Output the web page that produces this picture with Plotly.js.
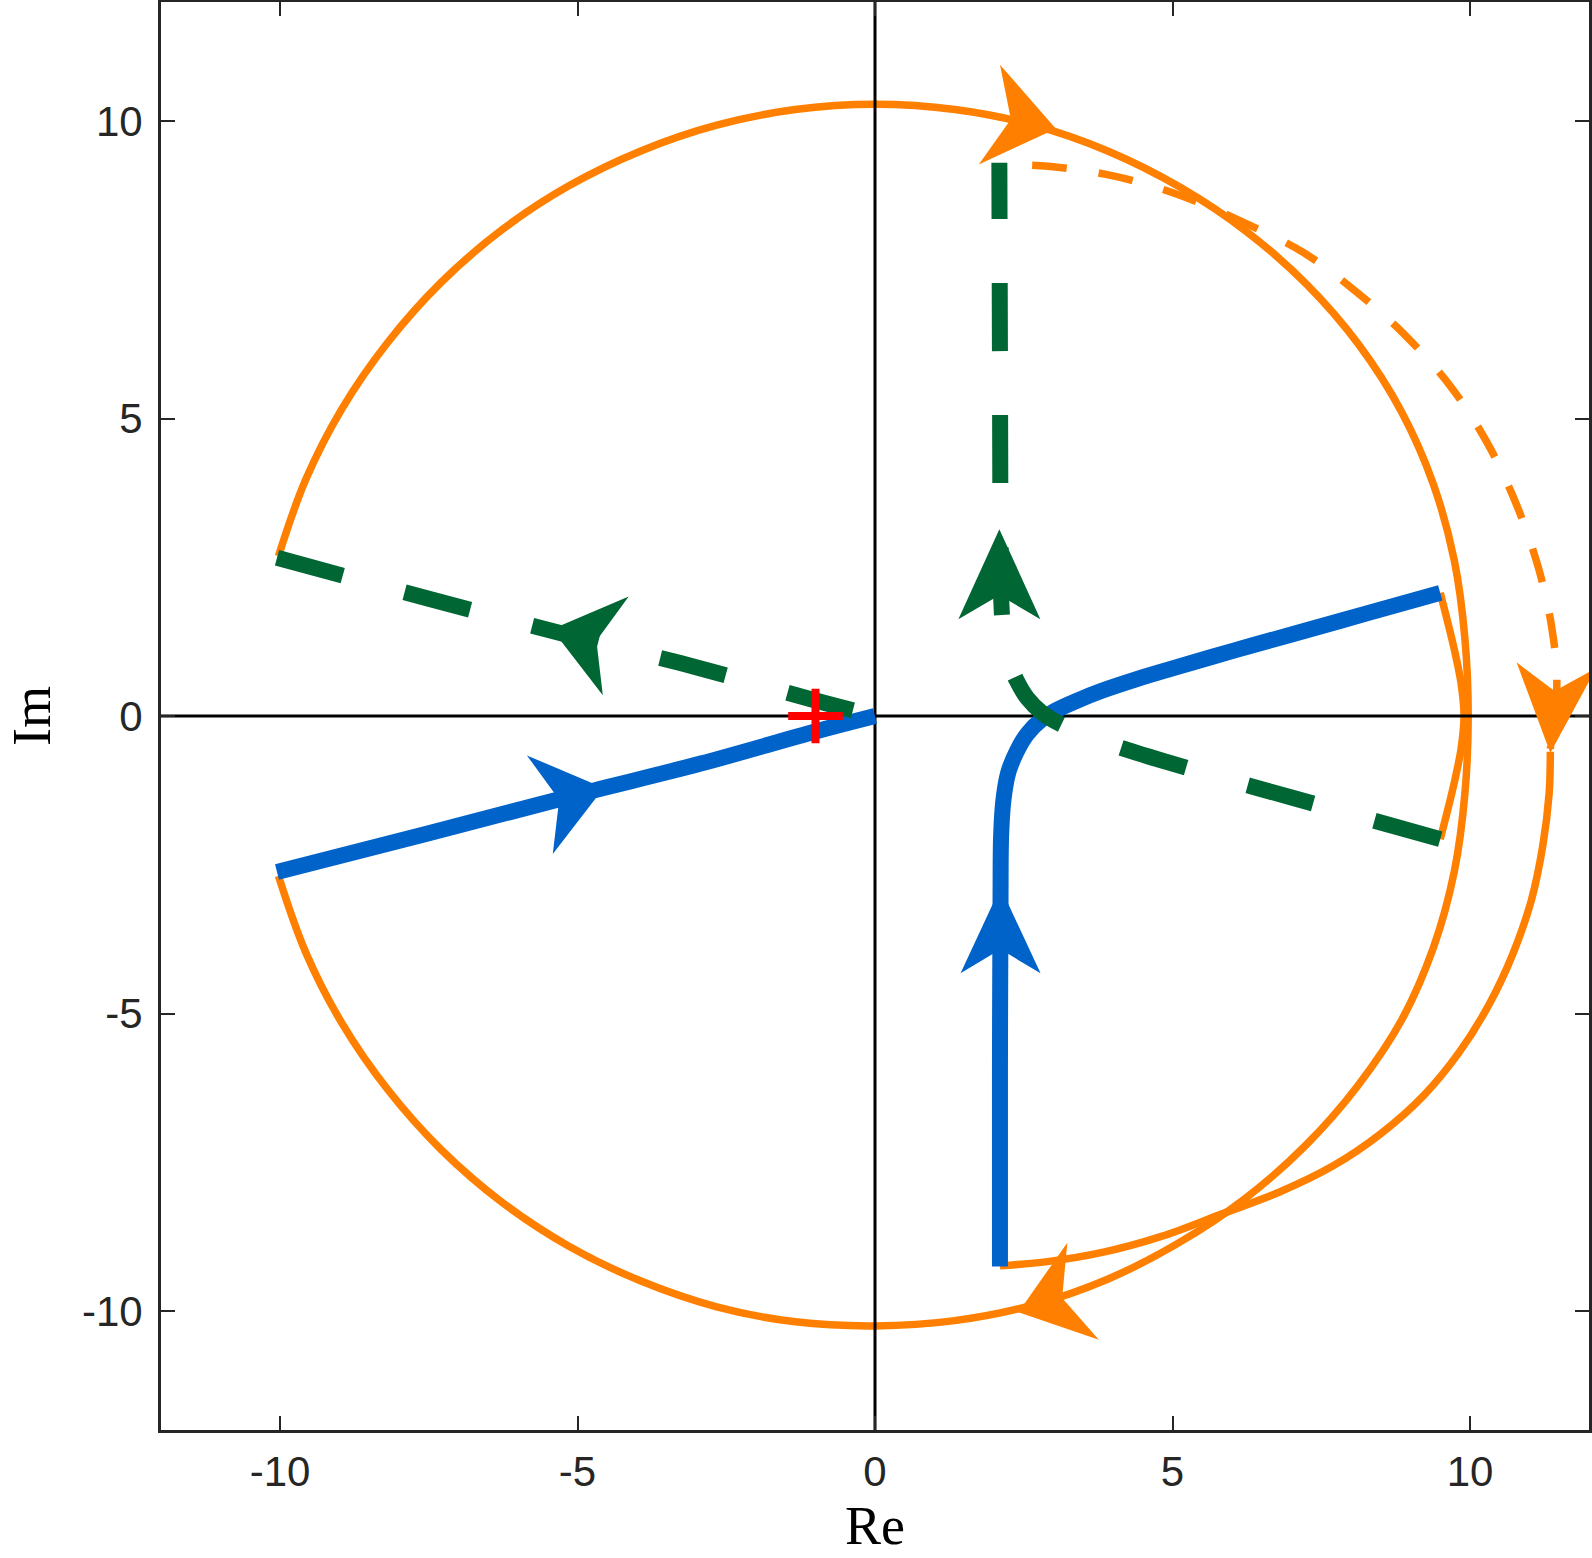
<!DOCTYPE html>
<html>
<head>
<meta charset="utf-8">
<script src="https://cdn.plot.ly/plotly-3.0.1.min.js"></script>
<style>
html,body{margin:0;padding:0;background:#ffffff;}
#chart{width:1592px;height:1558px;}
</style>
</head>
<body>
<div id="chart"></div>
<script>
// ---------- data ----------
const xRange = [-12, 12];
const yRange = [-12, 12];
const tickVals = [-10, -5, 0, 5, 10];
const tickText = ['-10', '-5', '0', '5', '10'];
const xTitle = 'Re';
const yTitle = 'Im';

// blue branch 1 : (-10,-2.6) -> origin
const blue1X = [-10.05, -7.5, -5.0, -2.93, -1.0, 0.0];
const blue1Y = [-2.62, -1.97, -1.32, -0.80, -0.26, 0.0];

// blue branch 2 : (2.1,-9.25) -> up -> (9.5,2.1)
const blue2X = [2.10, 2.10, 2.11, 2.12, 2.16, 2.24, 2.38, 2.56, 2.80, 3.05, 3.40, 3.80, 4.40, 5.00, 6.00, 7.00, 8.25, 9.50];
const blue2Y = [-9.25, -6.0, -3.0, -2.0, -1.4, -0.95, -0.60, -0.30, -0.06, 0.10, 0.26, 0.42, 0.62, 0.80, 1.09, 1.37, 1.72, 2.07];

// green dashed branch 1 : (-10,2.6) -> origin
const green1X = [-10.05, -7.5, -5.0, -2.93, -1.0, 0.0];
const green1Y = [2.66, 1.97, 1.32, 0.80, 0.26, 0.0];

// green dashed branch 2 : (9.5,-2.1) -> (2.1,9.3)
const green2X = [9.50, 8.25, 7.00, 6.00, 5.00, 4.40, 3.80, 3.40, 3.05, 2.80, 2.56, 2.38, 2.24, 2.16, 2.12, 2.11, 2.10, 2.09];
const green2Y = [-2.07, -1.72, -1.37, -1.09, -0.80, -0.62, -0.42, -0.26, -0.10, 0.06, 0.30, 0.60, 0.95, 1.40, 2.0, 3.0, 6.0, 9.30];

// orange large arc (clockwise, from end of green 1 to start of blue 1)
const arcBigX = [-10.026, -9.571, -8.955, -8.187, -7.290, -6.270, -5.145, -3.934, -2.661, -1.342, 0.000,
                 1.342, 2.661, 3.930, 5.130, 6.246, 7.255, 8.132, 8.851, 9.387, 9.737, 9.914, 9.970,
                 9.914, 9.737, 9.387, 8.851, 8.108, 7.227, 6.222, 5.110, 3.919, 2.653, 1.338, 0.000,
                 -1.341, -2.661, -3.934, -5.145, -6.270, -7.290, -8.187, -8.955, -9.571, -10.026];
const arcBigY = [2.687, 3.965, 5.170, 6.282, 7.290, 8.172, 8.911, 9.497, 9.930, 10.192, 10.280,
                 10.192, 9.930, 9.488, 8.885, 8.140, 7.255, 6.240, 5.110, 3.888, 2.609, 1.305, 0.000,
                 -1.305, -2.609, -3.888, -5.110, -6.222, -7.227, -8.108, -8.851, -9.461, -9.901, -10.162, -10.250,
                 -10.182, -9.930, -9.497, -8.911, -8.172, -7.290, -6.282, -5.170, -3.965, -2.687];

// orange small arc (end of blue 2 -> start of green 2)
const arcSmallX = [9.50, 9.62, 9.74, 9.85, 9.90, 9.85, 9.74, 9.62, 9.50];
const arcSmallY = [2.07, 1.60, 1.10, 0.55, 0.00, -0.55, -1.10, -1.60, -2.07];

// orange dashed arc (end of green 2 -> its arrow)
const arcDashX = [2.10, 2.91, 4.04, 5.10, 6.23, 7.20, 8.10, 8.92, 9.68, 10.29, 10.77, 11.15, 11.38, 11.46, 11.35];
const arcDashY = [9.27, 9.24, 9.07, 8.76, 8.28, 7.79, 7.12, 6.39, 5.53, 4.59, 3.58, 2.49, 1.45, 0.54, -0.55];

// orange solid outer arc (dashed arc end -> start of blue 2)
const arcOuterX = [11.35, 11.33, 11.22, 11.03, 10.72, 10.32, 9.82, 9.22, 8.50, 7.70, 6.80, 5.80, 4.80, 3.80, 2.90, 2.10];
const arcOuterY = [-0.60, -1.30, -2.20, -3.10, -4.00, -4.85, -5.65, -6.38, -7.02, -7.56, -8.00, -8.38, -8.75, -9.02, -9.17, -9.24];

// critical point
const critX = [-1];
const critY = [0];

// direction arrows : tip position and heading (degrees)
const arrowName  = ['blue1', 'green1', 'arcTop', 'arcBottom', 'arcDash', 'green2', 'blue2'];
const arrowX     = [-4.56, -5.43, 3.04, 2.41, 11.35, 2.09, 2.11];
const arrowY     = [-1.21, 1.46, 9.87, -10.02, -0.62, 3.14, -2.88];
const arrowAngle = [14.7, 165.3, -12, -162, -94, 90, 90];

// ---------- styles ----------
const BLUE = '#0063C9', GREEN = '#006633', ORANGE = '#FF8000', RED = '#FF0000';
const arrowStyle = {
  blue1:     {color: BLUE,   L: 66, W: 51, N: 46},
  green1:    {color: GREEN,  L: 66, W: 51, N: 46},
  arcTop:    {color: ORANGE, L: 68, W: 51, N: 46},
  arcBottom: {color: ORANGE, L: 68, W: 51, N: 46},
  arcDash:   {color: ORANGE, L: 88, W: 40, N: 62},
  green2:    {color: GREEN,  L: 90, W: 41, N: 66},
  blue2:     {color: BLUE,   L: 86, W: 40, N: 62}
};

const W = 1592, H = 1558;
const margin = {l: 161, r: 3, t: 2, b: 128, pad: 0};
const plotW = W - margin.l - margin.r;
const plotH = H - margin.t - margin.b;
const kx = (xRange[1] - xRange[0]) / plotW; // data units per pixel
const ky = (yRange[1] - yRange[0]) / plotH;

function lineTrace(x, y, color, width, dash) {
  return {
    type: 'scatter', mode: 'lines', x: x, y: y, hoverinfo: 'skip', showlegend: false,
    line: {color: color, width: width, dash: dash || 'solid', shape: 'spline', smoothing: 1}
  };
}

const traces = [
  lineTrace(arcBigX, arcBigY, ORANGE, 7.5),
  lineTrace(arcSmallX, arcSmallY, ORANGE, 7.5),
  lineTrace(arcOuterX, arcOuterY, ORANGE, 7.5),
  lineTrace(arcDashX, arcDashY, ORANGE, 7.5, '0px,32px,35px,0px'),
  // axes through the origin
  {type: 'scatter', mode: 'lines', x: xRange, y: [0, 0], hoverinfo: 'skip', showlegend: false,
   line: {color: '#000000', width: 3}},
  {type: 'scatter', mode: 'lines', x: [0, 0], y: yRange, hoverinfo: 'skip', showlegend: false,
   line: {color: '#000000', width: 3}},
  lineTrace(blue1X, blue1Y, BLUE, 16),
  lineTrace(blue2X, blue2Y, BLUE, 16),
  lineTrace(green1X, green1Y, GREEN, 16, '68px,64px'),
  lineTrace(green2X, green2Y, GREEN, 16, '68px,64px'),
  {type: 'scatter', mode: 'markers', x: critX, y: critY, hoverinfo: 'skip', showlegend: false,
   marker: {symbol: 'cross-thin', size: 39, color: RED, line: {color: RED, width: 8}}}
];

// arrowheads as filled paths built from tip + heading
const shapes = arrowName.map(function(name, i) {
  const st = arrowStyle[name];
  const a = arrowAngle[i] * Math.PI / 180;
  const dx = Math.cos(a), dy = Math.sin(a);
  const nx = -dy, ny = dx;
  const tx = arrowX[i], ty = arrowY[i];
  function pt(along, side) {
    return [tx + (along * dx + side * nx) * kx, ty + (along * dy + side * ny) * ky];
  }
  const c1 = pt(-st.L, st.W), nt = pt(-st.N, 0), c2 = pt(-st.L, -st.W);
  const path = 'M' + tx + ',' + ty + ' L' + c1[0] + ',' + c1[1] + ' L' + nt[0] + ',' + nt[1] +
               ' L' + c2[0] + ',' + c2[1] + ' Z';
  return {type: 'path', xref: 'x', yref: 'y', path: path, fillcolor: st.color,
          line: {width: 0}, layer: 'above'};
});

const axisCommon = {
  showgrid: false, zeroline: false, showline: true, linecolor: '#262626', linewidth: 3,
  mirror: 'ticks', ticks: 'inside', ticklen: 14, tickwidth: 2, tickcolor: '#262626',
  tickmode: 'array', tickvals: tickVals, ticktext: tickText,
  tickfont: {family: 'Liberation Sans, Arial, sans-serif', size: 42, color: '#262626'},
  fixedrange: true, automargin: false
};

const titleFont = {family: 'Liberation Serif, Times New Roman, serif', size: 54, color: '#000000'};

const layout = {
  width: W, height: H, margin: margin,
  paper_bgcolor: '#ffffff', plot_bgcolor: '#ffffff',
  showlegend: false,
  xaxis: Object.assign({}, axisCommon, {range: xRange, ticklabelstandoff: 3}),
  yaxis: Object.assign({}, axisCommon, {range: yRange, ticklabelstandoff: 7}),
  shapes: shapes,
  annotations: [
    {text: xTitle, xref: 'paper', yref: 'paper', x: 0.5, y: 0, xanchor: 'center', yanchor: 'middle',
     yshift: -96, showarrow: false, font: titleFont},
    {text: yTitle, xref: 'paper', yref: 'paper', x: 0, y: 0.5, xanchor: 'center', yanchor: 'middle',
     xshift: -129, textangle: -90, showarrow: false, font: titleFont}
  ]
};

Plotly.newPlot('chart', traces, layout, {displayModeBar: false, staticPlot: true});
</script>
</body>
</html>
